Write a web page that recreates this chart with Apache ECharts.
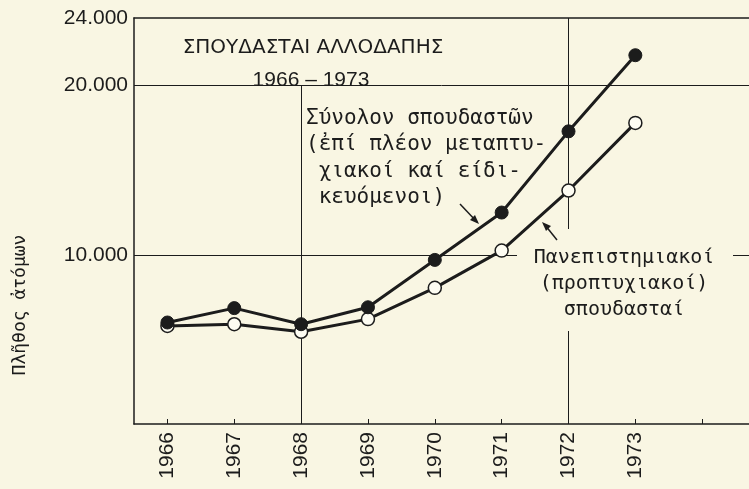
<!DOCTYPE html>
<html><head><meta charset="utf-8">
<script src="https://cdn.jsdelivr.net/npm/echarts@6/dist/echarts.min.js"></script>
<style>html,body{margin:0;padding:0;background:#f9f6e3}#c{width:749px;height:489px}</style>
</head><body><div id="c"></div>
<script>
var years = [1966, 1967, 1968, 1969, 1970, 1971, 1972, 1973];
var tickYears = [1966, 1967, 1968, 1969, 1970, 1971, 1972, 1973, 1974];
var totalStudents = [6000, 6850, 5900, 6900, 9700, 12500, 17300, 21800];
var undergraduates = [5800, 5900, 5450, 6200, 8050, 10250, 13800, 17800];
var yTickLabels = [10000, 20000, 24000];
var gridValues = [10000, 20000];
var titleText = 'ΣΠΟΥΔΑΣΤΑΙ ΑΛΛΟΔΑΠΗΣ';
var subtitleText = '1966 – 1973';
var yName = 'Πλῆθος ἀτόμων';
var note1 = ['Σύνολον σπουδαστῶν', '(ἐπί πλέον μεταπτυ-', ' χιακοί καί είδι-', ' κευόμενοι)'];
var note2 = ['Πανεπιστημιακοί', '(προπτυχιακοί)', 'σπουδασταί'];

var ink = '#1c1c1c';
var bg = '#f9f6e3';
var chart = echarts.init(document.getElementById('c'));
function fmt(v){ return String(v).replace(/\B(?=(\d{3})+(?!\d))/g, '.'); }
function pairs(vals){ return years.map(function(y, i){ return [y, vals[i]]; }); }

chart.setOption({
  backgroundColor: bg,
  animation: false,
  grid: { left: 134, top: 18, right: 0, bottom: 65, show: false },
  xAxis: [{
    type: 'value', min: 1965.5, max: 1974.7,
    axisLine: { lineStyle: { color: ink, width: 1.5 } },
    axisTick: { show: true, inside: true, length: 5, customValues: tickYears, lineStyle: { color: ink, width: 1 } },
    axisLabel: { rotate: 90, fontFamily: 'Liberation Sans', fontSize: 21, color: ink, margin: 8,
      customValues: years, showMinLabel: true, showMaxLabel: true, formatter: function(v){ return String(v); } },
    splitLine: { show: false }
  }, {
    type: 'value', position: 'top', min: 1965.5, max: 1974.7,
    axisLine: { show: true, lineStyle: { color: ink, width: 1.5 } },
    axisTick: { show: false }, axisLabel: { show: false }, splitLine: { show: false }
  }],
  yAxis: {
    type: 'value', min: 0, max: 24000, interval: 2000,
    axisLine: { show: true, lineStyle: { color: ink, width: 1.5 } },
    axisTick: { show: false },
    splitLine: { show: false },
    axisLabel: { fontFamily: 'Liberation Sans', fontSize: 21, color: ink, margin: 6,
      formatter: function(v){ return yTickLabels.indexOf(v) >= 0 ? fmt(v) : ''; } }
  },
  series: [
    {
      type: 'line', data: pairs(undergraduates), symbol: 'circle', symbolSize: 13, z: 3,
      lineStyle: { color: ink, width: 3 },
      itemStyle: { color: '#fdfcf2', borderColor: ink, borderWidth: 1.5 },
      markLine: {
        silent: true, symbol: 'none', label: { show: false }, z: 1,
        lineStyle: { color: ink, width: 1, type: 'solid' },
        data: gridValues.map(function(v){ return { yAxis: v }; }).concat([
          [ { coord: [1968, 0] }, { coord: [1968, 20000] } ],
          [ { coord: [1972, 0] }, { coord: [1972, 24000] } ]
        ])
      }
    },
    {
      type: 'line', data: pairs(totalStudents), symbol: 'circle', symbolSize: 13, z: 4,
      lineStyle: { color: ink, width: 3 },
      itemStyle: { color: ink, borderColor: ink, borderWidth: 1 }
    }
  ],
  graphic: [
    { type: 'text', x: 313, y: 48, style: { text: titleText, font: '20px "DejaVu Sans"', fill: ink, align: 'center', verticalAlign: 'middle' } },
    { type: 'text', x: 311, y: 80, style: { text: subtitleText, font: '21px "Liberation Sans"', fill: ink, align: 'center', verticalAlign: 'middle' } },
    { type: 'text', x: 20, y: 305, rotation: Math.PI/2, style: { text: yName, font: '18px "DejaVu Sans Mono"', fill: ink, align: 'center', verticalAlign: 'middle' } },
    { type: 'text', x: 306, y: 105, z: 10, style: { text: note1.join('\n'), font: '21px "DejaVu Sans Mono"', lineHeight: 26.5, fill: ink, align: 'left', verticalAlign: 'top' } },
    { type: 'rect', z: 2, shape: { x: 517, y: 229, width: 216, height: 102 }, style: { fill: bg } },
    { type: 'text', x: 624, y: 245, z: 10, style: { text: note2.join('\n'), font: '20px "DejaVu Sans Mono"', lineHeight: 26, fill: ink, align: 'center', verticalAlign: 'top' } },
    { type: 'line', z: 10, shape: { x1: 460, y1: 204, x2: 477, y2: 222 }, style: { stroke: ink, lineWidth: 1.5 } },
    { type: 'polygon', z: 10, shape: { points: [[479,224],[470,220],[475,215]] }, style: { fill: ink } },
    { type: 'line', z: 10, shape: { x1: 557, y1: 240, x2: 545, y2: 225 }, style: { stroke: ink, lineWidth: 1.5 } },
    { type: 'polygon', z: 10, shape: { points: [[542,222],[551,226],[546,231]] }, style: { fill: ink } }
  ]
});
</script></body></html>
